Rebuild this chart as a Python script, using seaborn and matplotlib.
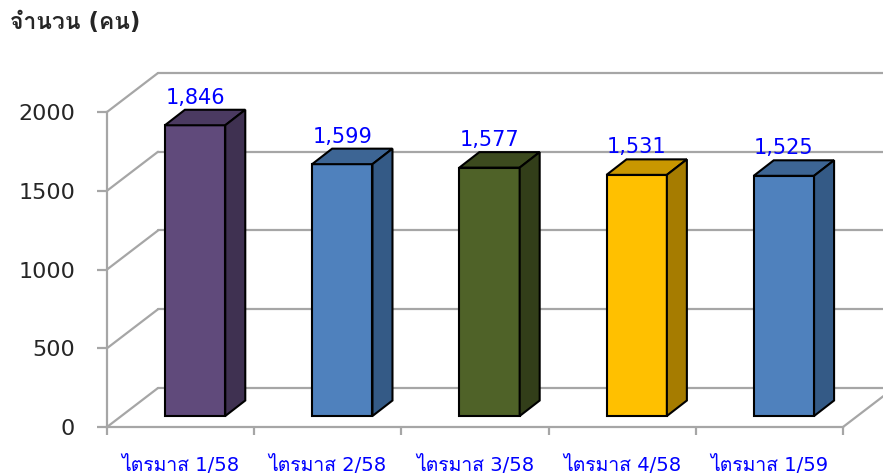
import matplotlib
matplotlib.use("Agg")
import matplotlib.pyplot as plt
from matplotlib import font_manager, ft2font
from matplotlib.patches import Polygon
import seaborn as sns
import pandas as pd

# ข้อมูล
quarters = ["ไตรมาส 1/58", "ไตรมาส 2/58", "ไตรมาส 3/58", "ไตรมาส 4/58", "ไตรมาส 1/59"]
counts = [1846, 1599, 1577, 1531, 1525]
count_labels = ["1,846", "1,599", "1,577", "1,531", "1,525"]
y_ticks = [0, 500, 1000, 1500, 2000]

front_colors = ["#604A7B", "#4F81BD", "#4F6228", "#FFC000", "#4F81BD"]
top_colors = ["#4B3A61", "#3D6594", "#3C4A1E", "#C99700", "#3D6594"]
side_colors = ["#3F3151", "#345A86", "#323E19", "#A67C00", "#345A86"]


def find_thai_families():
    """Installed families that have Thai glyphs."""
    found = []
    for f in font_manager.fontManager.ttflist:
        try:
            cmap = ft2font.FT2Font(f.fname).get_charmap()
        except Exception:
            continue
        if 0x0E08 in cmap and 0x0E33 in cmap and 0x0E44 in cmap:
            if f.name not in found:
                found.append(f.name)
    return found


sns.set_style("white")
thai_fams = find_thai_families()
plt.rcParams["font.family"] = ["DejaVu Sans"] + thai_fams + ["Noto Sans", "Noto Sans CJK SC"]

W, H = 883, 475
fig = plt.figure(figsize=(W / 100, H / 100), dpi=100)
# front plane: x 107..843 px, y 427 (0) .. 112 (2000)
ax = fig.add_axes([107 / W, (H - 427) / H, 736 / W, 315 / H])
ax.set_xlim(-0.5, len(quarters) - 0.5)
ax.set_ylim(0, 2000)

ppx = 736 / len(quarters)   # px per category
ppy = 315 / 2000            # px per person

grid_col = "#A6A6A6"
wdx, wdy = 51 / ppx, 39 / ppy       # wall depth
bx, by = 14.5 / ppx, 11 / ppy       # bar plane shift
ddx, ddy = 20 / ppx, 15.5 / ppy     # bar depth

# back wall + left wall lines
for t in y_ticks:
    ax.plot([-0.5 + wdx, len(quarters) - 0.5 + wdx], [t + wdy, t + wdy],
            color=grid_col, lw=1.6, clip_on=False, zorder=1)
    ax.plot([-0.5, -0.5 + wdx], [t, t + wdy], color=grid_col, lw=1.6, clip_on=False, zorder=1)
ax.plot([len(quarters) - 0.5, len(quarters) - 0.5 + wdx], [0, wdy],
        color=grid_col, lw=1.6, clip_on=False, zorder=1)

df = pd.DataFrame({"quarter": quarters, "count": counts})
sns.barplot(data=df, x="quarter", y="count", hue="quarter", palette=front_colors,
            legend=False, width=0.41, saturation=1, edgecolor="black", linewidth=1.5,
            ax=ax, zorder=3)

bars = sorted(ax.patches, key=lambda p: p.get_x())
for i, p in enumerate(bars):
    p.set_x(p.get_x() + bx)
    p.set_y(by)
    p.set_clip_on(False)
    x0 = p.get_x()
    x1 = x0 + p.get_width()
    y0 = by
    y1 = by + p.get_height()
    top = Polygon([(x0, y1), (x1, y1), (x1 + ddx, y1 + ddy), (x0 + ddx, y1 + ddy)],
                  closed=True, facecolor=top_colors[i], edgecolor="black", lw=1.5,
                  zorder=3, clip_on=False)
    side = Polygon([(x1, y0), (x1 + ddx, y0 + ddy), (x1 + ddx, y1 + ddy), (x1, y1)],
                   closed=True, facecolor=side_colors[i], edgecolor="black", lw=1.5,
                   zorder=3, clip_on=False)
    ax.add_patch(top)
    ax.add_patch(side)
    ax.text((x0 + x1) / 2, y1 + 21.5 / ppy, count_labels[i], ha="center", va="baseline",
            color="#0000FF", fontsize=15, zorder=5, clip_on=False)

# axes styling
for s in ["top", "right"]:
    ax.spines[s].set_visible(False)
for s in ["left", "bottom"]:
    ax.spines[s].set_color(grid_col)
    ax.spines[s].set_linewidth(1.6)

ax.set_yticks(y_ticks)
ax.set_yticklabels([str(t) for t in y_ticks])
ax.tick_params(axis="y", direction="out", length=7, width=1.6, color=grid_col,
               labelsize=16, pad=16, left=True)
ax.set_xticks([i - 0.5 for i in range(len(quarters) + 1)])
ax.set_xticklabels([])
ax.set_xticks(range(len(quarters)), minor=True)
ax.set_xticklabels(quarters, minor=True)
ax.tick_params(axis="x", which="major", direction="out", length=6, width=1.6,
               color=grid_col, bottom=True)
ax.tick_params(axis="x", which="minor", length=0, pad=20, labelsize=14, labelcolor="#0000FF")
ax.set_xlabel("")
ax.set_ylabel("")
ax.grid(False)

fig.text(10 / W, 1 - 22 / H, "จำนวน (คน)", fontsize=16.5, fontweight="bold", va="center")

fig.savefig("out.png", dpi=100)
